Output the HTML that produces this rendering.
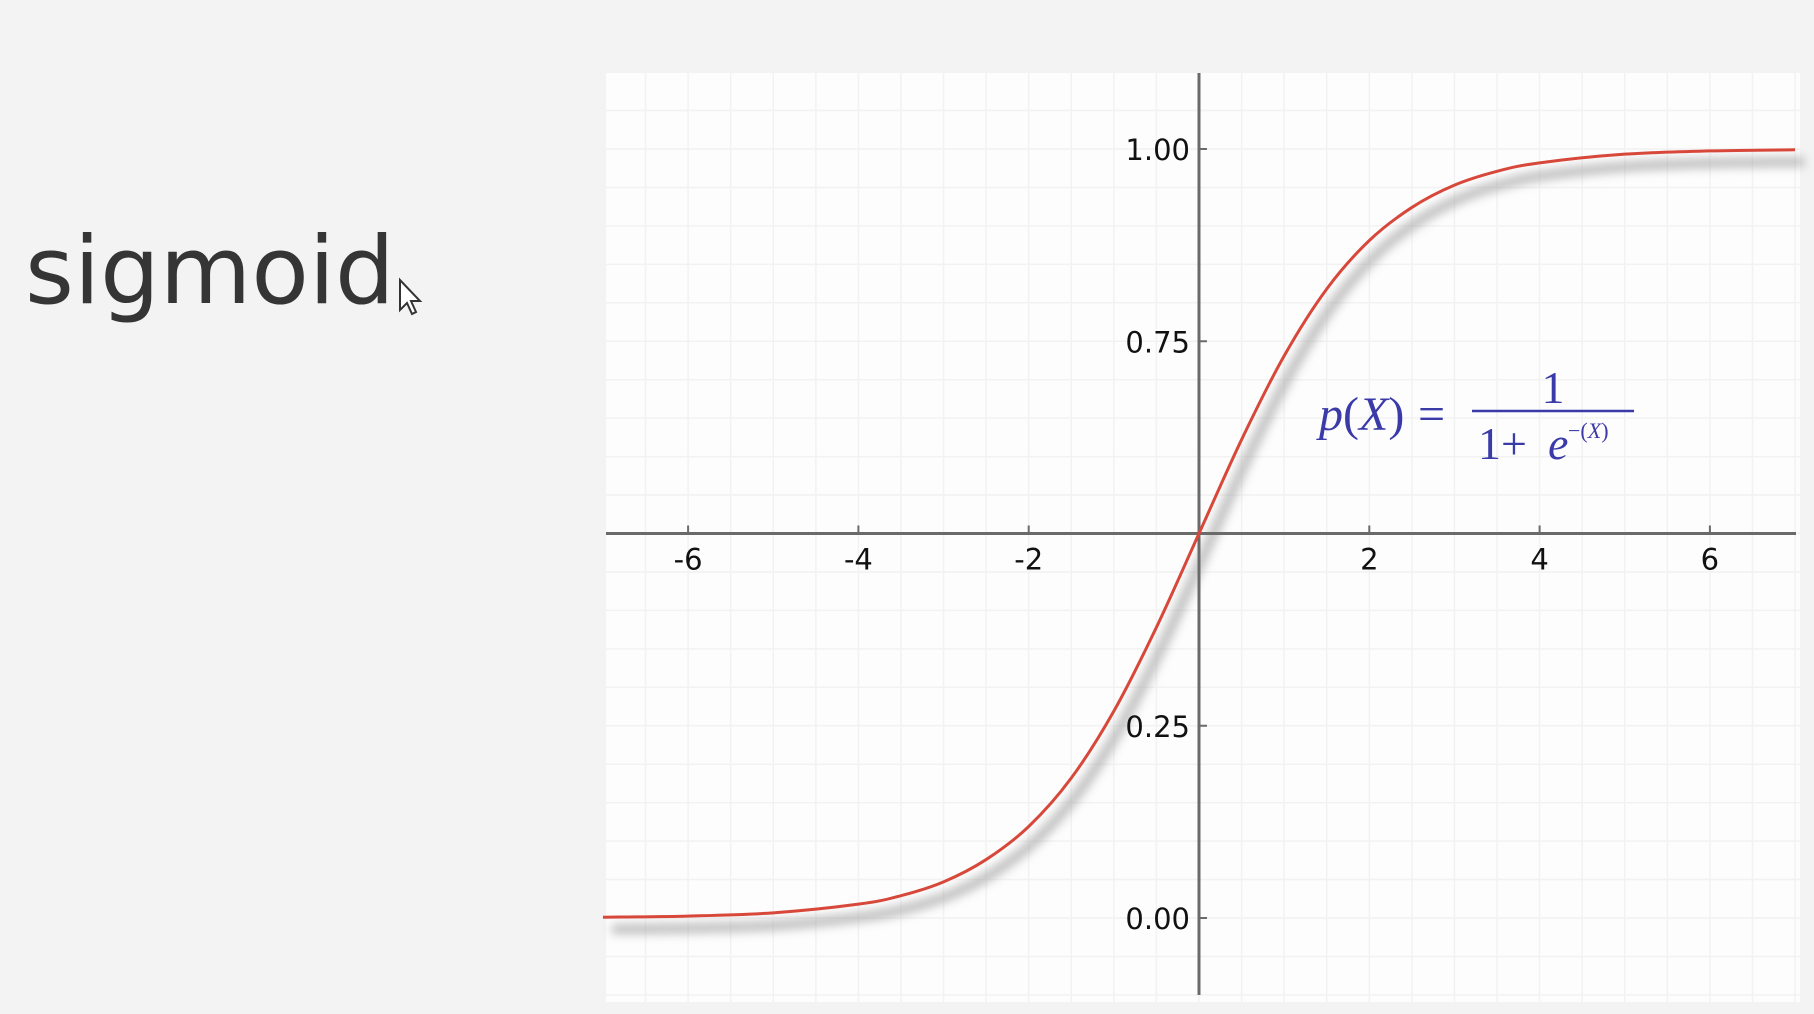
<!DOCTYPE html>
<html><head><meta charset="utf-8"><style>
html,body{margin:0;padding:0;background:#f3f3f3;width:1814px;height:1014px;overflow:hidden}
svg{display:block}
</style></head><body>
<svg id="chart" width="1814" height="1014" xmlns="http://www.w3.org/2000/svg">
<defs><filter id="blur" x="-10%" y="-10%" width="120%" height="120%"><feGaussianBlur stdDeviation="5"/></filter></defs>
<rect width="1814" height="1014" fill="#f3f3f3"/>
<text x="25" y="303" font-family="'DejaVu Sans','Liberation Sans',sans-serif" font-size="94" fill="#353535">sigmoid</text>
<path d="M400 280 L400 310 L407 303 L412 314 L416 312 L411 301 L420 301 Z" fill="#fff" stroke="#333" stroke-width="2"/>
<rect x="606" y="73" width="1194" height="929" fill="#fdfdfd"/>
<g id="grid"></g>
<g id="shadow"></g>
<g id="axes"></g>
<g id="series"></g>
<g fill="#3a3aa8" font-family="'Liberation Serif',serif">
<text x="1319" y="430" font-size="48" font-style="italic">p</text>
<text x="1343" y="430" font-size="48">(<tspan font-style="italic">X</tspan>)</text>
<text x="1418" y="430" font-size="48">=</text>
<text x="1553" y="403" font-size="46" text-anchor="middle">1</text>
<line x1="1472" y1="411" x2="1634" y2="411" stroke="#3a3aa8" stroke-width="2.5"/>
<text x="1478" y="459" font-size="46">1</text>
<text x="1501" y="459" font-size="46">+</text>
<text x="1548" y="459" font-size="46" font-style="italic">e</text>
<text x="1568" y="438" font-size="22">−(<tspan font-style="italic">X</tspan>)</text>
</g>
</svg>
<script>
const xTicks=[-6,-4,-2,2,4,6];
const yTicks=[0,0.25,0.75,1.0];
const yTickLabels=["0.00","0.25","0.75","1.00"];
const curveX=[-7,-6,-5,-4,-3.5,-3,-2.5,-2,-1.5,-1,-0.5,0,0.5,1,1.5,2,2.5,3,3.5,4,5,6,7];
const curveY=[0.001,0.0025,0.0067,0.018,0.029,0.047,0.076,0.119,0.182,0.269,0.378,0.5,0.622,0.731,0.818,0.881,0.924,0.953,0.971,0.982,0.9933,0.9975,0.999];
const NS="http://www.w3.org/2000/svg";
const X0=1199,PXU=85.15,Y0=918,PYU=769;
const sx=v=>X0+v*PXU, sy=v=>Y0-v*PYU;
function mk(tag,attrs,parent){const e=document.createElementNS(NS,tag);for(const k in attrs)e.setAttribute(k,attrs[k]);parent.appendChild(e);return e;}
const grid=document.getElementById('grid'),axes=document.getElementById('axes'),series=document.getElementById('series'),shadow=document.getElementById('shadow');
for(let v=-7;v<=7.01;v+=0.5){const x=sx(v);if(x<606||x>1800)continue;
 const l=mk('line',{x1:x,y1:73,x2:x,y2:1002,stroke:'#f2f2f2','stroke-width':1.5},grid);
 
 }
for(let v=-0.2;v<=1.2;v+=0.05){const y=sy(v);if(y<73||y>1002)continue;
 const l=mk('line',{x1:606,y1:y,x2:1800,y2:y,stroke:'#f2f2f2','stroke-width':1.5},grid);
 
 }
const xa=mk('line',{x1:606,y1:sy(0.5),x2:1796,y2:sy(0.5),stroke:'#6a6a6a','stroke-width':3},axes);


const ya=mk('line',{x1:X0,y1:73,x2:X0,y2:995,stroke:'#6a6a6a','stroke-width':3},axes);


xTicks.forEach(v=>{
 const t=mk('line',{x1:sx(v),y1:sy(0.5),x2:sx(v),y2:sy(0.5)-8,stroke:'#6a6a6a','stroke-width':2},axes);
 
 
 const tx=mk('text',{x:sx(v),y:sy(0.5)+36,'text-anchor':'middle','font-family':"'DejaVu Sans','Liberation Sans',sans-serif",'font-size':29,fill:'#111'},axes);
 tx.textContent=String(v);
 
 
});
yTicks.forEach((v,i)=>{
 const t=mk('line',{x1:X0,y1:sy(v),x2:X0+8,y2:sy(v),stroke:'#6a6a6a','stroke-width':2},axes);
 
 
 const tx=mk('text',{x:X0-9,y:sy(v)+11,'text-anchor':'end','font-family':"'DejaVu Sans','Liberation Sans',sans-serif",'font-size':29,fill:'#111'},axes);
 tx.textContent=yTickLabels[i];
 
 
});
function pathD(dx,dy){
 const pts=curveX.map((v,i)=>[sx(v)+dx,sy(curveY[i])+dy]);
 let d='M'+pts[0][0]+' '+pts[0][1];
 for(let i=0;i<pts.length-1;i++){
  const p0=pts[Math.max(0,i-1)],p1=pts[i],p2=pts[i+1],p3=pts[Math.min(pts.length-1,i+2)];
  d+=' C'+(p1[0]+(p2[0]-p0[0])/6)+' '+(p1[1]+(p2[1]-p0[1])/6)+' '+(p2[0]-(p3[0]-p1[0])/6)+' '+(p2[1]-(p3[1]-p1[1])/6)+' '+p2[0]+' '+p2[1];
 }
 return d;
}
const sh=mk('path',{d:pathD(9,12),fill:'none',stroke:'#9a9a9a','stroke-width':9,opacity:0.7,filter:'url(#blur)'},shadow);


const c=mk('path',{d:pathD(0,0),fill:'none',stroke:'#d8483a','stroke-width':3},series);


</script>
</body></html>
